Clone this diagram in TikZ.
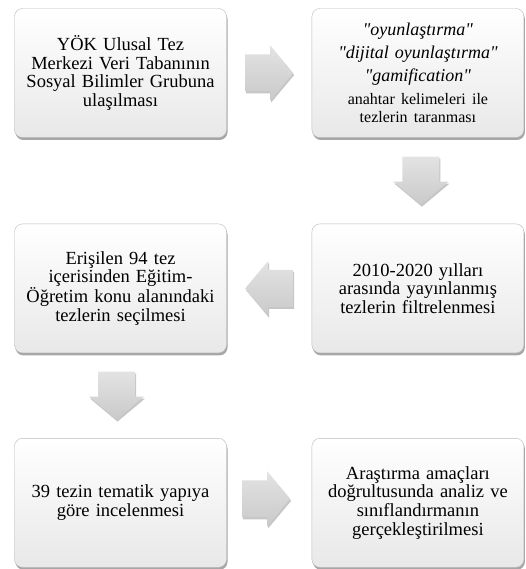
\documentclass[tikz,border=0pt]{standalone}
\usepackage{fontspec}
\setmainfont{Liberation Serif}[Ligatures=TeXOff]
\usetikzlibrary{positioning}
\usetikzlibrary{shadows}
\usetikzlibrary{calc}

\tikzset{
  stepbox/.style={draw=gray!55, rounded corners=8pt, top color=white, bottom color=gray!18,
    drop shadow={shadow xshift=1pt, shadow yshift=-2.5pt, fill=gray, opacity=0.7},
    minimum width=212pt, minimum height=129pt, text width=200pt, align=center,
    inner sep=0pt, font=\fontsize{18.5}{18.7}\selectfont},
  arrowfill/.style={top color=gray!22, bottom color=gray!42, draw=none,
    drop shadow={shadow xshift=1pt, shadow yshift=-2pt, fill=gray, opacity=0.45}},
  blockarrow/.pic={
    \path[arrowfill] (-24,-18.5) -- (1,-18.5) -- (1,-27.5) -- (24,0) -- (1,27.5) -- (1,18.5) -- (-24,18.5) -- cycle;
  }
}

\begin{document}
\begin{tikzpicture}[x=1pt,y=-1pt]
  \useasboundingbox (0,0) rectangle (525,569);
  % boxes
  \node [stepbox] (b1) at (120.5,73) {YÖK Ulusal Tez\\Merkezi Veri Tabanının\\Sosyal Bilimler Grubuna\\ulaşılması};
  \node [stepbox, right=85pt of b1] (b2) {{\itshape\fontsize{18}{23}\selectfont "oyunlaştırma"\\"dijital oyunlaştırma"\\"gamification"\par}
    \vspace{5pt}{\fontsize{16}{18}\selectfont anahtar kelimeleri ile\\tezlerin taranması\par}};
  \node [stepbox, below=86pt of b2] (b4) {2010-2020 yılları\\arasında yayınlanmış\\tezlerin filtrelenmesi};
  \node [stepbox, left=85pt of b4] (b3) {Erişilen 94 tez\\içerisinden Eğitim-\\Öğretim konu alanındaki\\tezlerin seçilmesi};
  \node [stepbox, below=85pt of b3] (b5) {39 tezin tematik yapıya\\göre incelenmesi};
  \node [stepbox, right=85pt of b5] (b6) {Araştırma amaçları\\doğrultusunda analiz ve\\sınıflandırmanın\\gerçekleştirilmesi};
  % arrows
  \pic (a1) at ($(b1.east)!0.5!(b2.west)$) {blockarrow};
  \pic [rotate=-90] (a2) at ($(b2.south)!0.5!(b4.north)+(3,0)$) {blockarrow};
  \pic [rotate=180] (a3) at ($(b4.west)!0.5!(b3.east)$) {blockarrow};
  \pic [rotate=-90] (a4) at ($(b3.south)!0.5!(b5.north)+(-4,0)$) {blockarrow};
  \pic (a5) at ($(b5.east)!0.5!(b6.west)+(-3,-4)$) {blockarrow};
\end{tikzpicture}
\end{document}
